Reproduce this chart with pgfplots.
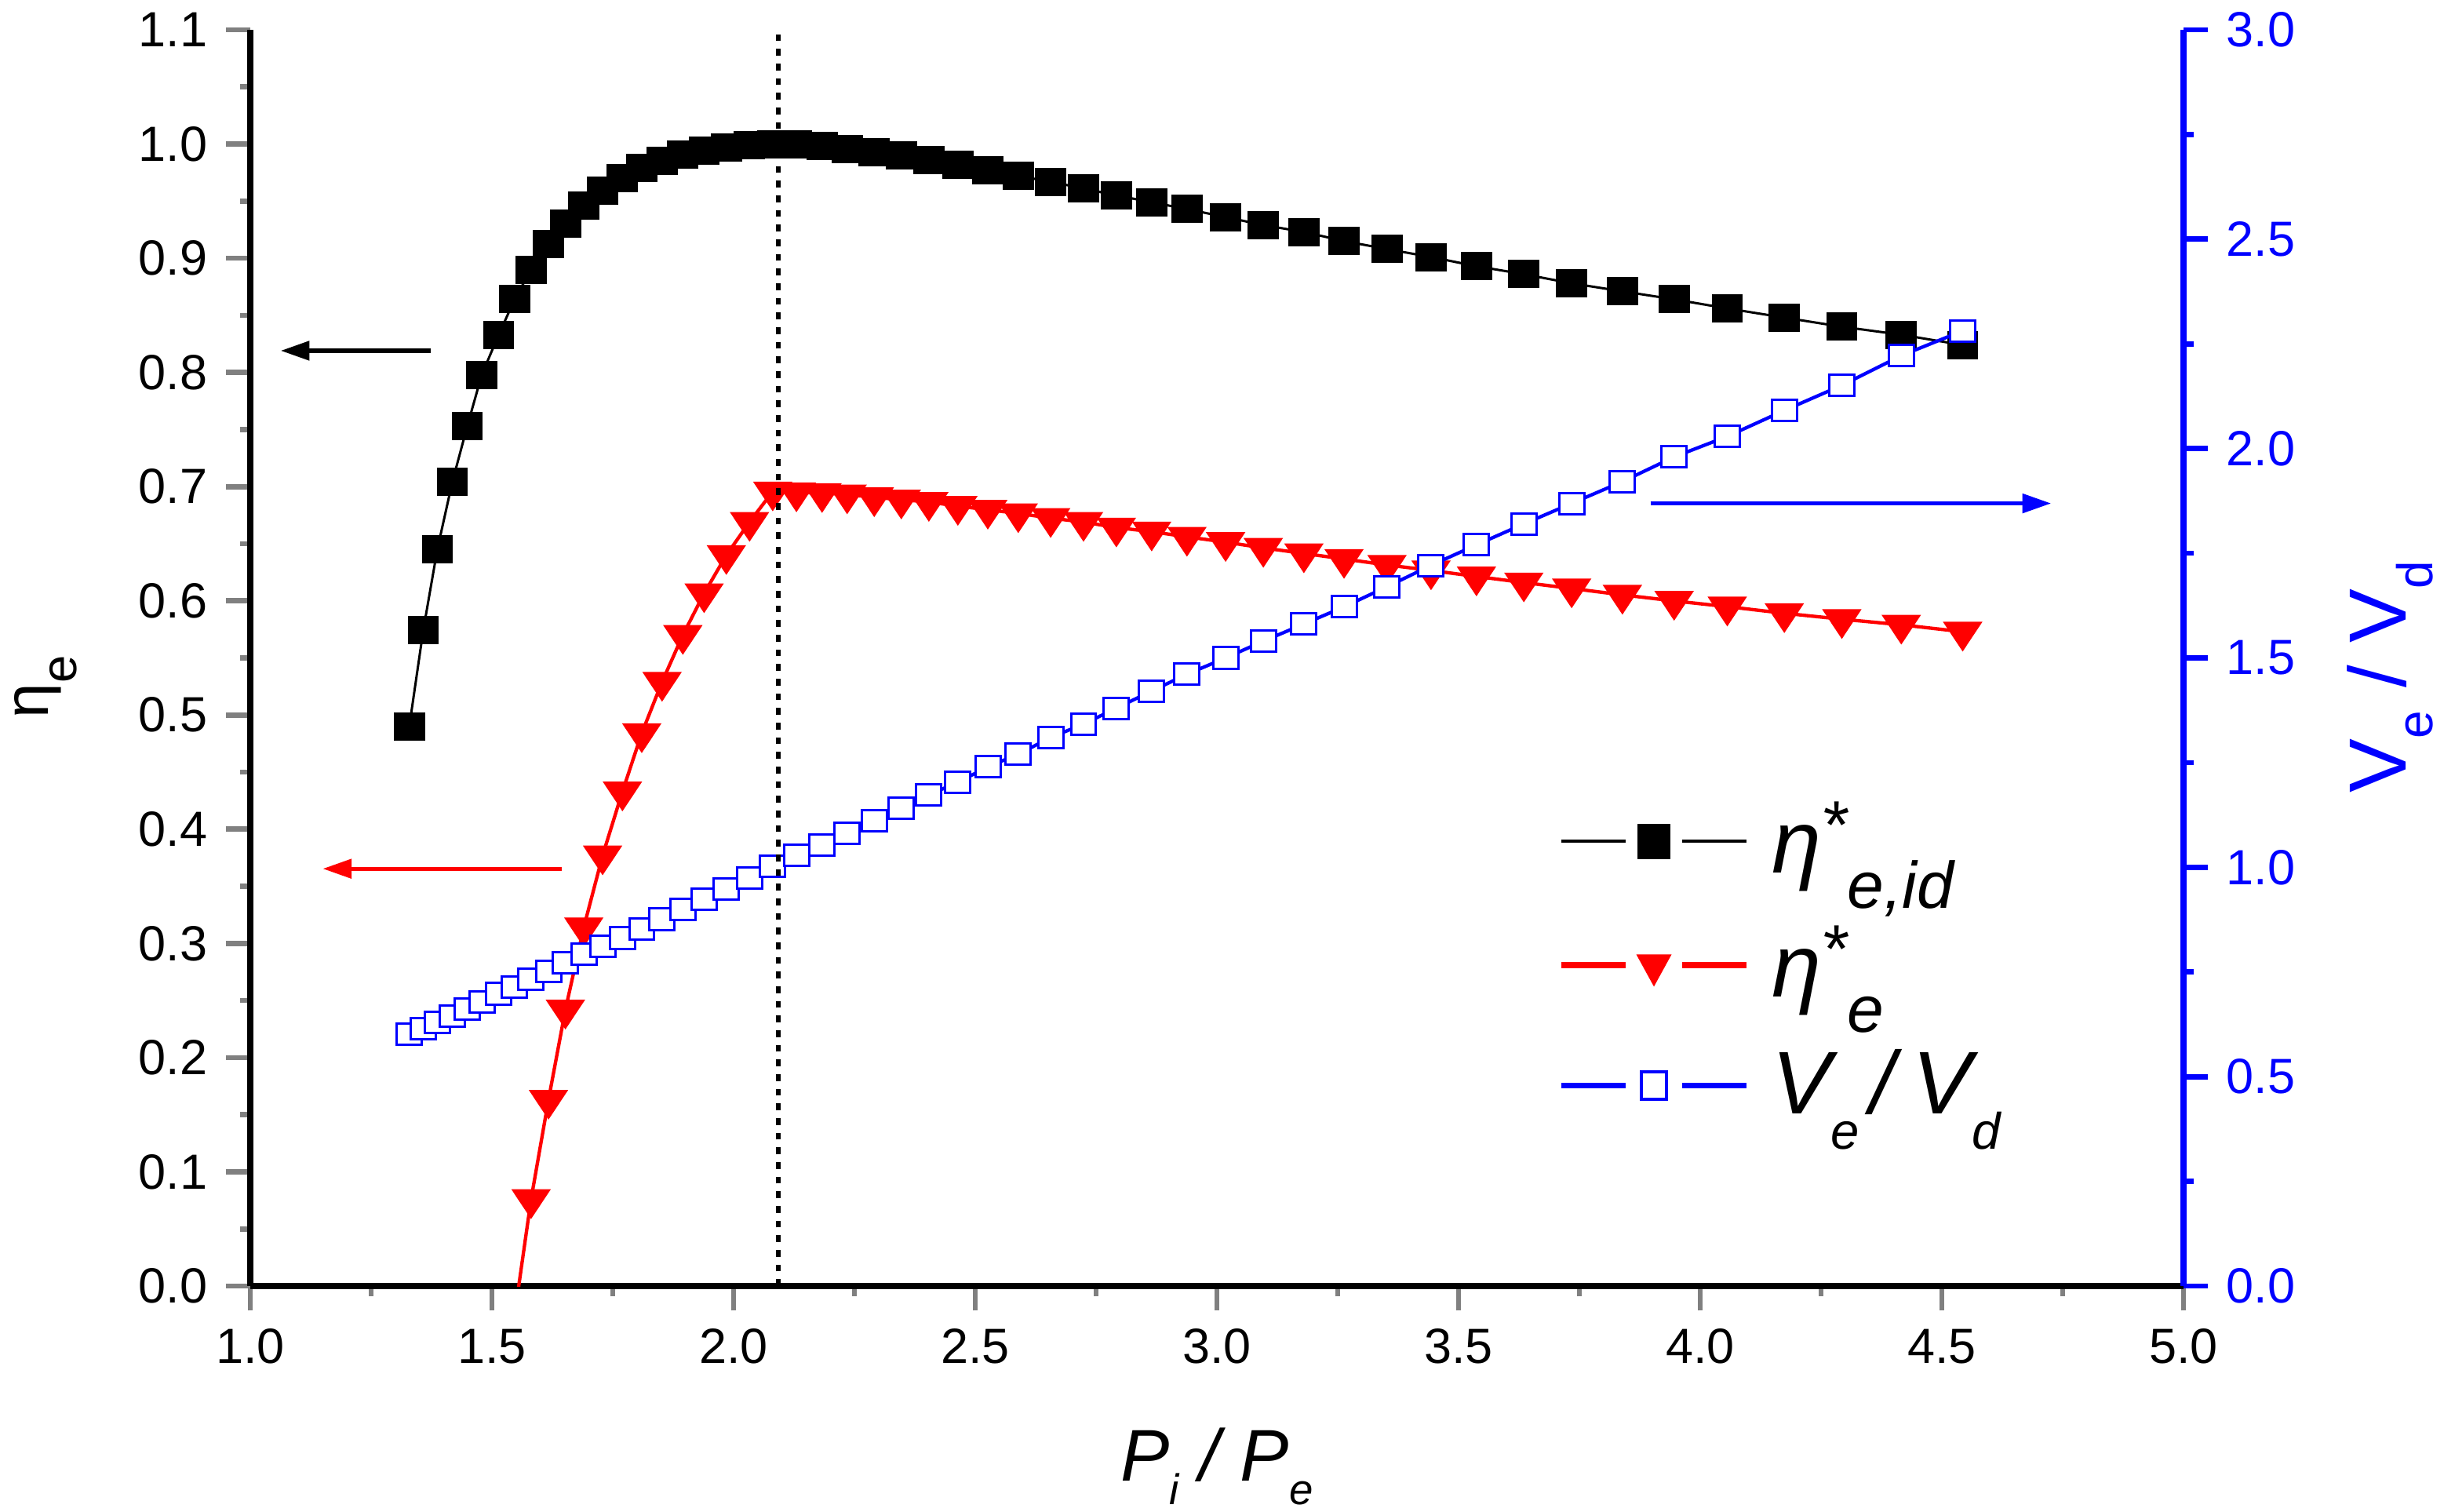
\documentclass[border=0pt]{standalone}
\usepackage{fontspec}
\setmainfont{Liberation Sans}
\usepackage{pgfplots}
\usepackage{pgfplotstable}
\pgfplotsset{compat=1.18}
\usetikzlibrary{arrows.meta}

\pgfplotstableread{
x y
1.329 0.490
1.358 0.5745
1.387 0.645
1.418 0.704
1.449 0.753
1.479 0.798
1.514 0.833
1.547 0.864
1.581 0.890
1.617 0.9125
1.652 0.930
1.690 0.946
1.729 0.959
1.770 0.970
1.810 0.979
1.852 0.985
1.895 0.991
1.939 0.994
1.985 0.997
2.033 0.999
2.081 1.000
2.130 1.000
2.183 0.998
2.235 0.9955
2.291 0.993
2.347 0.990
2.404 0.986
2.464 0.982
2.526 0.977
2.589 0.972
2.656 0.967
2.724 0.961
2.792 0.955
2.865 0.949
2.938 0.943
3.018 0.936
3.096 0.929
3.180 0.923
3.263 0.915
3.352 0.908
3.443 0.901
3.537 0.893
3.635 0.886
3.734 0.878
3.839 0.871
3.946 0.864
4.056 0.856
4.174 0.848
4.293 0.840
4.416 0.833
4.543 0.824
}\blackdata

\pgfplotstableread{
x y
1.547 -0.025
1.581 0.076
1.617 0.163
1.652 0.242
1.690 0.314
1.729 0.377
1.770 0.433
1.810 0.484
1.852 0.529
1.895 0.570
1.939 0.6065
1.985 0.640
2.033 0.669
2.081 0.6957
2.130 0.6949
2.183 0.6943
2.235 0.6931
2.291 0.6906
2.347 0.6886
2.404 0.6865
2.464 0.683
2.526 0.6797
2.589 0.6766
2.656 0.6724
2.724 0.669
2.792 0.6641
2.865 0.6606
2.938 0.656
3.018 0.6514
3.096 0.6463
3.180 0.6415
3.263 0.6366
3.352 0.6314
3.443 0.6266
3.537 0.6213
3.635 0.616
3.734 0.6108
3.839 0.6052
3.946 0.5999
4.056 0.5949
4.174 0.5891
4.293 0.5839
4.416 0.579
4.543 0.5729
}\reddata

\pgfplotstableread{
x y
1.329 0.601
1.358 0.614
1.387 0.629
1.418 0.644
1.449 0.661
1.479 0.679
1.514 0.698
1.547 0.714
1.581 0.733
1.617 0.752
1.652 0.772
1.690 0.792
1.729 0.811
1.770 0.831
1.810 0.852
1.852 0.876
1.895 0.900
1.939 0.923
1.985 0.949
2.033 0.974
2.081 1.002
2.130 1.028
2.183 1.053
2.235 1.081
2.291 1.111
2.347 1.141
2.404 1.173
2.464 1.203
2.526 1.240
2.589 1.270
2.656 1.310
2.724 1.342
2.792 1.380
2.865 1.421
2.938 1.461
3.018 1.500
3.096 1.540
3.180 1.581
3.263 1.622
3.352 1.670
3.443 1.721
3.537 1.770
3.635 1.820
3.734 1.869
3.839 1.921
3.946 1.980
4.056 2.029
4.174 2.091
4.293 2.151
4.416 2.222
4.543 2.281
}\bluedata

\newcommand\LSup[1]{\raisebox{0.27em}{\fontsize{13}{15}\selectfont\itshape #1}}
\newcommand\LSub[1]{\raisebox{-0.40em}{\fontsize{12.6}{15}\selectfont\itshape #1}}
\newcommand\LSubs[1]{\raisebox{-0.40em}{\fontsize{9.8}{12}\selectfont\itshape #1}}

\pgfplotsset{
  myaxis/.style={
    scale only axis, width=369.6pt, height=240.15pt,
    xmin=1, xmax=5,
    tick align=outside,
    major tick length=4.7pt, minor tick length=1.95pt,
    major tick style={line width=1pt},
    minor tick style={line width=1pt},
    axis line style={line width=1.2pt},
    /pgf/number format/assume math mode=true,
    tick label style={font=\fontsize{9.45}{11}\selectfont},
    xticklabel style={/pgf/number format/fixed, /pgf/number format/fixed zerofill, /pgf/number format/precision=1},
    yticklabel style={/pgf/number format/fixed, /pgf/number format/fixed zerofill, /pgf/number format/precision=1},
    clip marker paths=true,
    legend image code/.code={
      \draw[##1,mark=none] (0pt,0pt) -- (12.3pt,0pt);
      \draw[##1,mark=none] (23.2pt,0pt) -- (35.5pt,0pt);
      \draw[##1] plot coordinates {(17.75pt,0pt)};
    },
  },
  blackstyle/.style={black, line width=0.45pt, mark=square*, mark size=2.55pt,
    mark options={solid, fill=black, line width=0.3pt, xscale=1.11}},
  redstyle/.style={red, line width=0.65pt, mark=triangle*, mark size=3.6pt,
    mark options={solid, fill=red, line width=0.2pt, rotate=180, xscale=1.15}},
  bluestyle/.style={blue, line width=0.65pt, mark=square*, mark size=2.03pt,
    mark options={solid, fill=white, draw=blue, line width=0.45pt, xscale=1.18}},
}

\begin{document}
\begin{tikzpicture}
\begin{axis}[myaxis, name=main,
  ymin=0, ymax=1.1,
  axis x line*=bottom, axis y line*=left,
  xtick={1,1.5,2,2.5,3,3.5,4,4.5,5}, minor x tick num=1,
  ytick={0,0.1,0.2,0.3,0.4,0.5,0.6,0.7,0.8,0.9,1.0,1.1}, minor y tick num=1,
  xlabel={\fontsize{14}{16}\selectfont\itshape P\raisebox{-0.32em}{\fontsize{8.2}{10}\selectfont i} / P\raisebox{-0.32em}{\fontsize{8.2}{10}\selectfont e}},
  xlabel style={at={(axis description cs:0.5,-0.1555)}, anchor=base},
  ylabel={\fontsize{12}{14}\selectfont η\raisebox{-0.45em}{\fontsize{9.5}{11}\selectfont e}},
  ylabel style={at={(axis description cs:-0.1060,0.477)}, anchor=center},
]
\addplot[blackstyle, forget plot] table[x=x,y=y] {\blackdata};
\addplot[redstyle, forget plot] table[x=x,y=y] {\reddata};
\draw[black, line width=0.8pt, -{Triangle[length=5.5pt,width=3.6pt]}] (axis cs:1.374,0.819) -- (axis cs:1.063,0.819);
\draw[red, line width=0.8pt, -{Triangle[length=5.5pt,width=3.6pt]}] (axis cs:1.6445,0.3654) -- (axis cs:1.150,0.3654);
\end{axis}
\begin{axis}[myaxis,
  ymin=0, ymax=3,
  axis x line=none, axis y line*=right,
  ytick={0,0.5,1,1.5,2,2.5,3}, minor y tick num=1,
  y axis line style={blue},
  major tick style={blue, line width=1pt},
  minor tick style={blue, line width=1pt},
  yticklabel style={/tikz/text=blue},
  ylabel={\fontsize{15.5}{18}\selectfont\color{blue}V\raisebox{-0.33em}{\fontsize{9.6}{11}\selectfont e} / V\raisebox{-0.33em}{\fontsize{9.6}{11}\selectfont d}},
  ylabel style={at={(axis description cs:1.1150,0.485)}, anchor=base},
  legend style={draw=none, fill=none, at={(axis description cs:0.676,0.386)}, anchor=north west,
    legend cell align=left, row sep=8.6pt, column sep=4.2pt, inner sep=0pt,
    nodes={inner sep=0pt, font=\fontsize{17}{20}\selectfont}},
]
\addlegendimage{black, line width=0.6pt, mark=square*, mark size=3.1pt, mark options={solid, fill=black, line width=0.2pt, yscale=1.05, xscale=0.98}}
\addlegendimage{red, line width=1.1pt, mark=triangle*, mark size=3.9pt, mark options={solid, fill=red, line width=0.2pt, rotate=180, xscale=0.95}}
\addlegendimage{blue, line width=1.05pt, mark=square*, mark size=2.4pt, mark options={solid, fill=white, draw=blue, line width=0.5pt, yscale=1.1}}
\addplot[bluestyle, forget plot] table[x=x,y=y] {\bluedata};
\draw[black, line width=0.9pt, dash pattern=on 1.3pt off 1.5pt] (axis cs:2.092,0) -- (axis cs:2.092,3);
\draw[blue, line width=0.8pt, -{Triangle[length=5.5pt,width=3.6pt]}] (axis cs:3.897,1.869) -- (axis cs:4.726,1.869);
\legend{{\itshape η\LSup{*}\LSub{e,id}},{\itshape η\LSup{*}\LSub{e}},{\itshape V\LSubs{e}\hspace{0.12em}/\hspace{0.2em}V\LSubs{d}}}
\end{axis}
\pgfresetboundingbox
\path ([xshift=-47.85pt,yshift=-43.05pt]main.south west) rectangle ([xshift=49.8pt,yshift=5.7pt]main.north east);
\end{tikzpicture}
\end{document}
